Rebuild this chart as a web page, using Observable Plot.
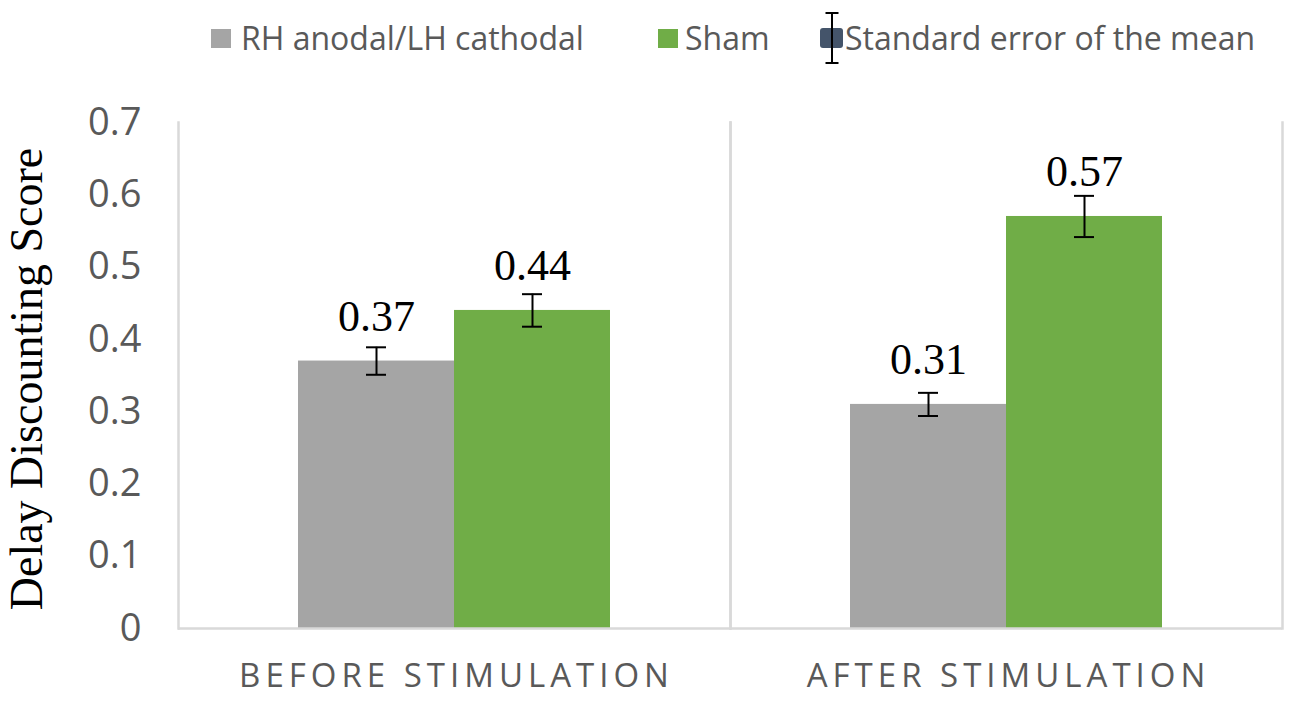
<!DOCTYPE html>
<html>
<head>
<meta charset="utf-8">
<script src="https://cdn.jsdelivr.net/npm/d3@7"></script>
<script src="https://cdn.jsdelivr.net/npm/@observablehq/plot@0.6"></script>
<style>
  html, body { margin: 0; padding: 0; background: #fff; }
  #wrap { position: relative; width: 1300px; height: 703px; overflow: hidden; }
  #legend { position: absolute; left: 0; top: 0; width: 1300px; height: 80px; font-family: "Open Sans", sans-serif; color: #595959; }
  .item { position: absolute; top: 38px; transform: translateY(-50%); font-size: 32px; line-height: 1; white-space: nowrap; }
  .sw { position: absolute; }
  svg g[aria-label^="fx-axis"] text { letter-spacing: 5px; }
</style>
</head>
<body>
<div id="wrap">
  <div id="chart"></div>
  <div id="legend"></div>
</div>
<script>
const categories = ["BEFORE STIMULATION", "AFTER STIMULATION"];
const series = ["RH anodal/LH cathodal", "Sham"];
const rhValues = [0.37, 0.31];
const shamValues = [0.44, 0.57];
const rhSE = [0.019, 0.016];
const shamSE = [0.0225, 0.0285];
const yTicks = [0, 0.1, 0.2, 0.3, 0.4, 0.5, 0.6, 0.7];
const colors = ["#a5a5a5", "#70ad47"];
const legendLabels = ["RH anodal/LH cathodal", "Sham", "Standard error of the mean"];

const data = [];
categories.forEach((c, i) => {
  data.push({category: c, series: series[0], value: rhValues[i], se: rhSE[i]});
  data.push({category: c, series: series[1], value: shamValues[i], se: shamSE[i]});
});

const chart = Plot.plot({
  width: 1300,
  height: 703,
  marginLeft: 177,
  marginRight: 18,
  marginTop: 122,
  marginBottom: 75,
  style: {background: "#fff", overflow: "visible"},
  fx: {domain: categories, padding: 0, label: null},
  x: {domain: series, paddingInner: 0, paddingOuter: 0.76, axis: null},
  y: {domain: [0, 0.7], ticks: yTicks, label: null},
  color: {domain: series, range: colors},
  marks: [
    Plot.axisY({ticks: yTicks, tickSize: 0, tickPadding: 37, fontSize: 38, fill: "#595959",
      fontFamily: "Open Sans", tickFormat: d => d === 0 ? "0" : d3.format(".1f")(d), label: null}),
    Plot.axisFx({anchor: "bottom", tickSize: 0, tickPadding: 35, fontSize: 33, fill: "#595959",
      fontFamily: "Open Sans", label: null, dx: 2}),
    Plot.barY(data, {fx: "category", x: "series", y: "value", fill: "series"}),
    Plot.frame({anchor: "left", stroke: "#d9d9d9", strokeWidth: 2.5}),
    Plot.frame({anchor: "right", stroke: "#d9d9d9", strokeWidth: 2.5}),
    Plot.ruleY([0], {stroke: "#d9d9d9", strokeWidth: 2.5}),
    Plot.ruleX(data, {fx: "category", x: "series", y1: d => d.value - d.se, y2: d => d.value + d.se, stroke: "#000", strokeWidth: 2}),
    Plot.tickY(data, {fx: "category", x: "series", y: d => d.value - d.se, stroke: "#000", strokeWidth: 2, insetLeft: 68, insetRight: 68}),
    Plot.tickY(data, {fx: "category", x: "series", y: d => d.value + d.se, stroke: "#000", strokeWidth: 2, insetLeft: 68, insetRight: 68}),
    Plot.text(data, {fx: "category", x: "series", y: "value", text: d => d3.format(".2f")(d.value),
      lineAnchor: "bottom", dy: -30, fontSize: 44, fontFamily: "Liberation Serif, Times New Roman, serif", fill: "#000"})
  ]
});
document.getElementById("chart").appendChild(chart);

// y-axis title
d3.select(chart).append("text")
  .attr("transform", "translate(42,379) rotate(-90)")
  .attr("text-anchor", "middle")
  .attr("font-family", "Liberation Serif, Times New Roman, serif")
  .attr("font-size", 46)
  .attr("fill", "#000")
  .text("Delay Discounting Score");

// legend
const legend = d3.select("#legend");
legend.append("div").attr("class", "sw")
  .style("left", "211px").style("top", "29px").style("width", "20px").style("height", "19px").style("background", colors[0]);
legend.append("div").attr("class", "item").style("left", "241px").text(legendLabels[0]);
legend.append("div").attr("class", "sw")
  .style("left", "658px").style("top", "29px").style("width", "20px").style("height", "19px").style("background", colors[1]);
legend.append("div").attr("class", "item").style("left", "685px").text(legendLabels[1]);
const lsvg = legend.append("svg").attr("class", "sw")
  .style("left", "815px").style("top", "8px").attr("width", 34).attr("height", 60);
lsvg.append("rect").attr("x", 5).attr("y", 20).attr("width", 23).attr("height", 20).attr("rx", 3).attr("fill", "#44546a");
lsvg.append("line").attr("x1", 17).attr("x2", 17).attr("y1", 5).attr("y2", 55).attr("stroke", "#000").attr("stroke-width", 2);
lsvg.append("line").attr("x1", 10.5).attr("x2", 23.5).attr("y1", 5).attr("y2", 5).attr("stroke", "#000").attr("stroke-width", 2);
lsvg.append("line").attr("x1", 10.5).attr("x2", 23.5).attr("y1", 55).attr("y2", 55).attr("stroke", "#000").attr("stroke-width", 2);
legend.append("div").attr("class", "item").style("left", "845px").text(legendLabels[2]);
</script>
</body>
</html>
